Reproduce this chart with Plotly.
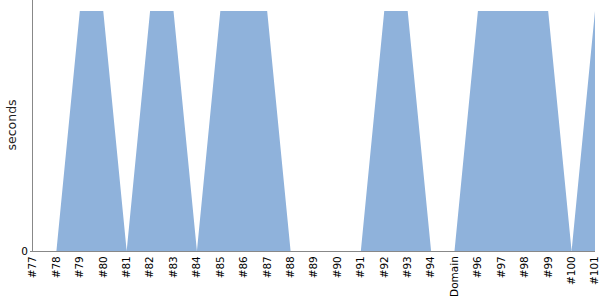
import plotly.graph_objects as go

categories = ["#77", "#78", "#79", "#80", "#81", "#82", "#83", "#84", "#85", "#86",
              "#87", "#88", "#89", "#90", "#91", "#92", "#93", "#94", "Domain", "#96",
              "#97", "#98", "#99", "#100", "#101"]
seconds = [0, 0, 1, 1, 0, 1, 1, 0, 1, 1,
           1, 0, 0, 0, 0, 1, 1, 0, 0, 1,
           1, 1, 1, 0, 1]

FONT = "DejaVu Sans, Verdana, sans-serif"
L, R, T, B = 33, 5, 0, 49
W, H = 600, 300

fig = go.Figure(go.Scatter(
    x=categories, y=seconds, mode="none", fill="tozeroy",
    fillcolor="#8fb2db", hoverinfo="x+y"))

fig.update_layout(
    width=W, height=H,
    margin=dict(l=L, r=R, t=T, b=B),
    paper_bgcolor="white", plot_bgcolor="white",
    showlegend=False,
    font=dict(family=FONT, size=10.5, color="black"),
)
fig.update_xaxes(
    type="category", range=[0, len(categories) - 1],
    showgrid=False, zeroline=False, showline=True, linecolor="#888", linewidth=1,
    tickangle=-90, ticks="", tickfont=dict(family=FONT, size=10.5, color="black"),
)
fig.update_yaxes(
    range=[0, 1.046], tickvals=[0], ticktext=["0"],
    showgrid=False, zeroline=False, showline=True, linecolor="#888", linewidth=1,
    ticks="outside", ticklen=2, tickcolor="#888",
    tickfont=dict(family=FONT, size=10.5, color="black"),
)
plot_w = W - L - R
fig.add_annotation(
    text="seconds", textangle=-90, showarrow=False,
    xref="paper", yref="paper", x=(11 - L) / plot_w, y=0.5,
    xanchor="center", yanchor="middle",
    font=dict(family=FONT, size=12.5, color="#222"),
)

fig.write_html("out.html")
